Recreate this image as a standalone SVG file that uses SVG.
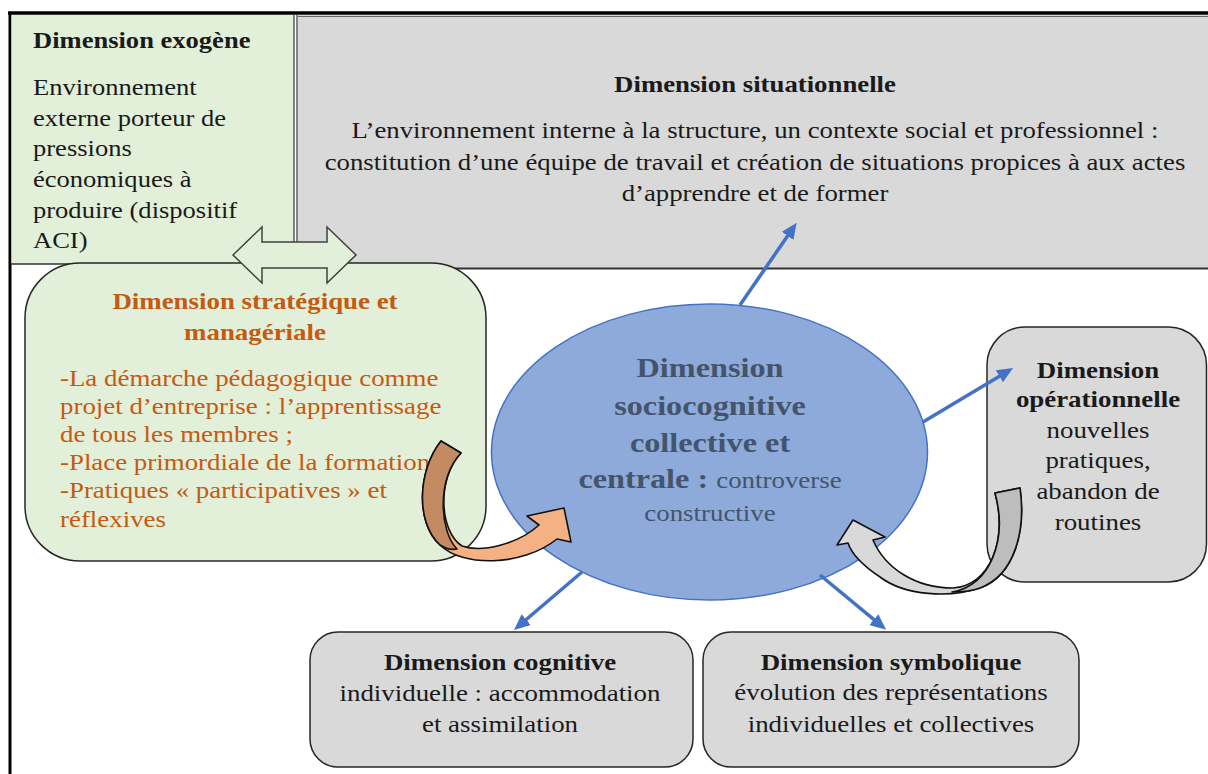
<svg xmlns="http://www.w3.org/2000/svg" width="1208" height="774" viewBox="0 0 1208 774">
<defs>
<style>
.t{font-family:"Liberation Serif","Times New Roman",serif;font-size:22.5px;fill:#1a1a1a}
.b{font-weight:bold}
.c{text-anchor:middle}
.or{fill:#c55a11}
.el{fill:#44546a}
.big{font-size:27px}
.box{stroke:#262626;stroke-width:1.5}
.green{fill:#e2efd9}
.grey{fill:#d9d9d9}
.conn{stroke:#4472c4;stroke-width:3.5;fill:none;marker-end:url(#ah)}
.curve{stroke:#111;stroke-width:1.6;stroke-linejoin:round}
</style>
<marker id="ah" markerUnits="userSpaceOnUse" markerWidth="16" markerHeight="14" refX="6" refY="7" orient="auto">
<path d="M0,0 L16,7 L0,14 Z" fill="#4472c4"/>
</marker>
</defs>
<rect x="0" y="0" width="1208" height="774" fill="#ffffff"/>

<g id="frame">
<line x1="8" y1="13" x2="1208" y2="13" stroke="#000" stroke-width="3.5"/>
<line x1="10" y1="12" x2="10" y2="774" stroke="#000" stroke-width="3"/>
</g>

<g id="exogene">
<rect x="11.5" y="15" width="282.5" height="249" class="green"/>
<line x1="11" y1="264" x2="294" y2="264" stroke="#333" stroke-width="1.5"/>
<line x1="294" y1="15" x2="294" y2="264" stroke="#333" stroke-width="1.2"/>
<line x1="297" y1="15" x2="297" y2="268" stroke="#333" stroke-width="1.2"/>
<g transform="translate(33,0) scale(1.18 1)">
<text class="t b" x="0" y="48">Dimension exogène</text>
<text class="t" x="0" y="95">Environnement</text>
<text class="t" x="0" y="126">externe porteur de</text>
<text class="t" x="0" y="156.5">pressions</text>
<text class="t" x="0" y="187">économiques à</text>
<text class="t" x="0" y="218">produire (dispositif</text>
<text class="t" x="0" y="248">ACI)</text>
</g>
</g>

<g id="situationnelle">
<rect x="298" y="15" width="910" height="253" class="grey"/>
<line x1="298" y1="16.5" x2="1208" y2="16.5" stroke="#666" stroke-width="1"/>
<line x1="297" y1="268.5" x2="1208" y2="268.5" stroke="#333" stroke-width="2"/>
<g transform="translate(755,0) scale(1.19 1)">
<text class="t b c" x="0" y="92">Dimension situationnelle</text>
<text class="t c" x="0" y="138">L’environnement interne à la structure, un contexte social et professionnel :</text>
<text class="t c" x="0" y="170">constitution d’une équipe de travail et création de situations propices à aux actes</text>
<text class="t c" x="0" y="201">d’apprendre et de former</text>
</g>
</g>

<g id="strategique">
<rect x="25" y="263" width="461" height="298" rx="55" ry="55" class="green box"/>
<g transform="translate(255,0) scale(1.195 1)">
<text class="t b c or" x="0" y="309">Dimension stratégique et</text>
<text class="t b c or" x="0" y="340">managériale</text>
</g>
<g transform="translate(60,0) scale(1.195 1)">
<text class="t or" x="0" y="386">-La démarche pédagogique comme</text>
<text class="t or" x="0" y="414">projet d’entreprise : l’apprentissage</text>
<text class="t or" x="0" y="442">de tous les membres ;</text>
<text class="t or" x="0" y="470">-Place primordiale de la formation</text>
<text class="t or" x="0" y="498">-Pratiques « participatives » et</text>
<text class="t or" x="0" y="527">réflexives</text>
</g>
</g>

<g id="sociocognitive">
<ellipse cx="709.5" cy="452" rx="218" ry="148" fill="#8eaadb" stroke="#4472c4" stroke-width="1.5"/>
<g transform="translate(710,0) scale(1.195 1)">
<text class="t b c el big" x="0" y="377">Dimension</text>
<text class="t b c el big" x="0" y="415">sociocognitive</text>
<text class="t b c el big" x="0" y="452">collective et</text>
<text class="t c el" x="0" y="488"><tspan class="b big">centrale : </tspan>controverse</text>
<text class="t c el" x="0" y="521">constructive</text>
</g>
</g>

<g id="operationnelle">
<rect x="987" y="327" width="219.5" height="255" rx="38" ry="38" class="grey box"/>
<g transform="translate(1098,0) scale(1.195 1)">
<text class="t b c" x="0" y="378">Dimension</text>
<text class="t b c" x="0" y="407">opérationnelle</text>
<text class="t c" x="0" y="438">nouvelles</text>
<text class="t c" x="0" y="468">pratiques,</text>
<text class="t c" x="0" y="499">abandon de</text>
<text class="t c" x="0" y="530">routines</text>
</g>
</g>

<g id="cognitive">
<rect x="310" y="632" width="383" height="135" rx="28" ry="28" class="grey box"/>
<g transform="translate(500,0) scale(1.195 1)">
<text class="t b c" x="0" y="670">Dimension cognitive</text>
<text class="t c" x="0" y="701">individuelle : accommodation</text>
<text class="t c" x="0" y="732">et assimilation</text>
</g>
</g>

<g id="symbolique">
<rect x="703" y="632" width="376" height="135" rx="28" ry="28" class="grey box"/>
<g transform="translate(891,0) scale(1.195 1)">
<text class="t b c" x="0" y="670">Dimension symbolique</text>
<text class="t c" x="0" y="700">évolution des représentations</text>
<text class="t c" x="0" y="732">individuelles et collectives</text>
</g>
</g>

<g id="connectors">
<polygon points="233,255 262,227 262,242 327,242 327,227 356,255 327,283 327,268 262,268 262,283" fill="#e2efd9" stroke="#404040" stroke-width="1.5" stroke-linejoin="miter"/>
<line class="conn" x1="740" y1="305" x2="791" y2="231"/>
<line class="conn" x1="923" y1="422" x2="1004.5" y2="373.2"/>
<line class="conn" x1="582" y1="572" x2="521.6" y2="623.5"/>
<line class="conn" x1="820" y1="575" x2="878.5" y2="623.4"/>
<g id="curved-orange">
<path class="curve" fill="#f4b183" d="M441,441 C418,470 415,522 440,545 C462,567 522,567 557,539 L571,542 L564,508 L527,516 L539,525 C518,544 482,553 462,546 C440,532 436,480 461,453 Z"/>
<path class="curve" fill="#c48a62" d="M441,441 C418,470 415,522 440,545 C446,549 452,550 457,549 C440,532 436,480 461,453 Z"/>
</g>
<g id="curved-grey">
<path class="curve" fill="#d9d9d9" d="M995,493 L1020,488 C1026,530 1015,575 980,588 C950,598 905,596 880,577 C862,565 852,555 848,543 L837,545 L853,520 L885,537 L873,540 C885,568 915,588 953,588 C990,586 1008,540 995,493 Z"/>
<path class="curve" fill="#bdbdbd" d="M995,493 L1020,488 C1026,530 1015,575 980,588 C972,591 962,592 952,592 C990,586 1008,540 995,493 Z"/>
</g>
</g>
</svg>
